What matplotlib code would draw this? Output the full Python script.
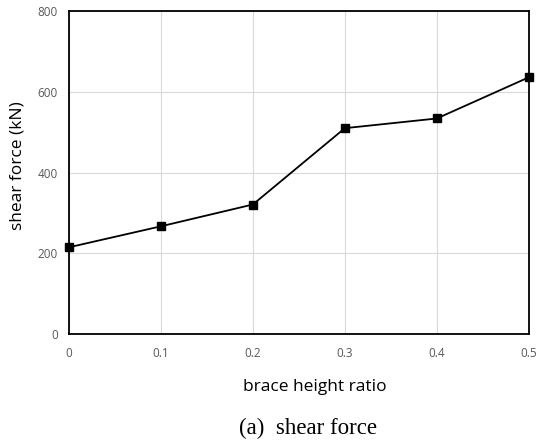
import matplotlib
matplotlib.use('Agg')
import matplotlib.pyplot as plt

ratio = [0, 0.1, 0.2, 0.3, 0.4, 0.5]
shear = [215, 267, 321, 510, 534, 636]
xticks = [0, 0.1, 0.2, 0.3, 0.4, 0.5]
xticklabels = ['0', '0.1', '0.2', '0.3', '0.4', '0.5']
yticks = [0, 200, 400, 600, 800]

fig = plt.figure(figsize=(5.38, 4.42), dpi=100)
ax = fig.add_axes([0.128, 0.244, 0.855, 0.731])

ax.plot(ratio, shear, color='black', linewidth=1.3, marker='s', markersize=6,
        clip_on=False, zorder=3)

ax.set_xlim(0, 0.5)
ax.set_ylim(0, 800)
ax.set_xticks(xticks)
ax.set_xticklabels(xticklabels)
ax.set_yticks(yticks)
ax.grid(True, color='#d9d9d9', linewidth=0.8)
ax.set_axisbelow(True)
for s in ax.spines.values():
    s.set_linewidth(1.3)
    s.set_color('black')
ax.tick_params(length=0, labelsize=8.5, labelcolor='#595959')
ax.tick_params(axis='x', pad=9)
ax.tick_params(axis='y', pad=8)
for lab in ax.get_xticklabels() + ax.get_yticklabels():
    lab.set_family('Open Sans')

# axis titles and caption placed in figure pixels
fig.text(315 / 538, 1 - 387 / 442, 'brace height ratio', family='Open Sans',
         fontsize=12.5, ha='center', va='center')
fig.text(18 / 538, 1 - 166 / 442, 'shear force (kN)', family='Open Sans',
         fontsize=12.5, ha='center', va='center', rotation=90)
fig.text(308 / 538, 1 - 428 / 442, '(a)  shear force', family='Liberation Serif',
         fontsize=16.5, ha='center', va='center')

fig.savefig('out.png', dpi=100)
